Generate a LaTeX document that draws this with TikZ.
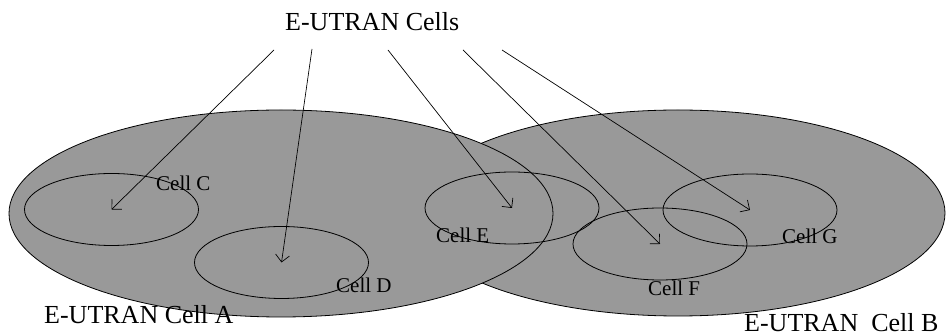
\documentclass[tikz,border=0pt]{standalone}
\usepackage{fontspec}
\setmainfont{Liberation Serif}
\usetikzlibrary{shapes.geometric,arrows.meta}
\begin{document}
\begin{tikzpicture}[x=1pt,y=-1pt,
  big/.style={ellipse,draw=black,fill=black!40,line width=0.8pt,inner sep=0pt},
  small/.style={ellipse,draw=black,line width=0.8pt,inner sep=0pt,minimum width=174pt,minimum height=72pt},
  arr/.style={-{Straight Barb[length=7pt,width=14pt]},line width=0.7pt},
  lbl/.style={font=\fontsize{21}{21}\selectfont,inner sep=0pt,anchor=base west},
  biglbl/.style={font=\fontsize{26}{26}\selectfont,inner sep=0pt,anchor=base west}]
\useasboundingbox (0,0) rectangle (946,336);
% large cells
\node[big,minimum width=534pt,minimum height=206pt] (B) at (678,213) {};
\node[big,minimum width=544pt,minimum height=207pt] (A) at (281,213.5) {};
% small cells
\node[small] (C) at (111.5,209.5) {};
\node[small] (D) at (281.5,262.5) {};
\node[small] (E) at (512,208) {};
\node[small] (F) at (660,244) {};
\node[small] (G) at (750,210) {};
% labels
\node[biglbl] (title) at (285,31) {E-UTRAN Cells};
\node[biglbl] (lA) at (44,324) {E-UTRAN Cell A};
\node[biglbl] (lB) at (744,332) {E-UTRAN\ \ Cell B};
\node[lbl] (lC) at (156,191) {Cell C};
\node[lbl] (lD) at (336,293) {Cell D};
\node[lbl] (lE) at (436,243) {Cell E};
\node[lbl] (lF) at (648,296) {Cell F};
\node[lbl] (lG) at (782,244) {Cell G};
% arrow start points
\coordinate (s1) at (274,50);
\coordinate (s2) at (312,49);
\coordinate (s3) at (388,50);
\coordinate (s4) at (463,50);
\coordinate (s5) at (502,50);
\draw[arr] (s1) -- (C.center);
\draw[arr] (s2) -- (D.center);
\draw[arr] (s3) -- (E.center);
\draw[arr] (s4) -- (F.center);
\draw[arr] (s5) -- (G.center);
\end{tikzpicture}
\end{document}
